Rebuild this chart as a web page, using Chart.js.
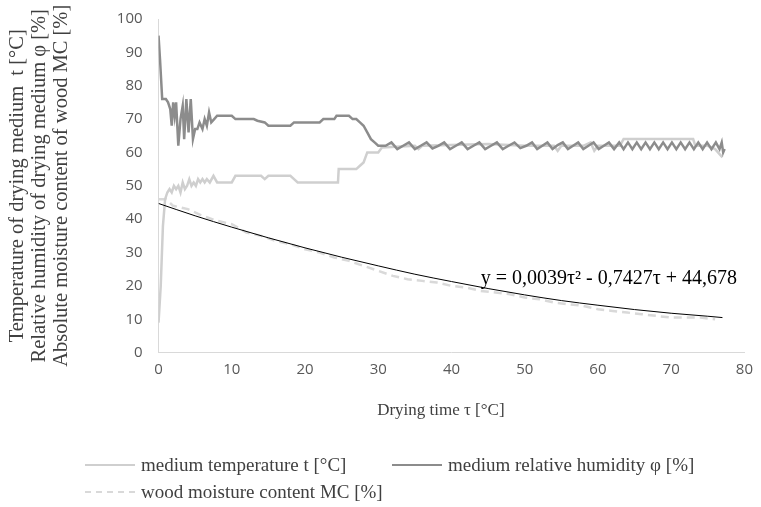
<!DOCTYPE html>
<html>
<head>
<meta charset="utf-8">
<script src="https://cdn.jsdelivr.net/npm/chart.js@4.4.1/dist/chart.umd.min.js"></script>
<style>
  html, body { margin: 0; padding: 0; background: #fff; }
  #wrap { position: relative; width: 761px; height: 507px; }
  .legend { position: absolute; left: 0; top: 0; width: 761px; height: 507px; pointer-events: none;
            font-family: 'Liberation Serif', serif; font-size: 19px; color: #404040; }
  .legend .item { position: absolute; white-space: nowrap; display: flex; align-items: center; }
  .legend .swatch { width: 50px; height: 0; margin-right: 6px; }
</style>
</head>
<body>
<div id="wrap">
  <canvas id="chart" width="761" height="507"></canvas>
  <div class="legend" id="legend"></div>
</div>
<script>
// ---- data ----
const humTime = [0, 0.2, 0.5, 1, 1.3, 1.6, 1.8, 2.0, 2.2, 2.4, 2.7, 3.0, 3.3, 3.5, 3.8, 4.1, 4.4, 4.7, 5.0, 5.3, 5.6, 6.0, 6.3, 6.6, 6.9, 7.2, 7.6, 8, 10, 10.5, 13, 13.5, 14.5, 15, 18, 18.5, 22, 22.5, 24, 24.3, 26, 26.5, 27, 27.5, 28, 28.5, 29, 29.5, 30,
  31, 31.8, 32.6, 33.4, 34.2, 35, 35.8, 36.6, 37.4, 38.2, 39, 39.8, 40.6, 41.4, 42.2, 43, 43.8, 44.6, 45.4, 46.2, 47, 47.8, 48.6, 49.4, 50.2, 51, 51.7, 52.4, 53.1, 53.8, 54.5, 55.2, 55.9, 56.6, 57.3, 58, 58.7, 59.4, 60.1, 60.8, 61.5, 62.2, 62.9, 63.5, 64.1, 64.7, 65.3, 65.9, 66.5, 67.1, 67.7, 68.3, 68.9, 69.5, 70.1, 70.7, 71.3, 71.9, 72.5, 73.1, 73.7, 74.3, 74.9, 75.5, 76.1, 76.6, 76.9, 77.1, 77.3];
const humValues = [95, 88, 76, 76, 75, 73, 68, 75, 71, 75, 62, 70, 74, 64, 76, 66, 76, 64, 67, 67, 69, 67, 70, 68, 72, 69, 70, 71, 71, 70, 70, 69.5, 69, 68, 68, 69, 69, 70, 70, 71, 71, 70, 70, 69, 68, 66, 64, 63, 62,
  62, 63, 61, 62, 63, 61, 62, 63, 61.2, 62, 63, 61, 62, 63, 61, 62, 63, 61, 62, 63, 61, 62, 63, 61.3, 62, 63, 61, 62, 63, 61, 62.2, 63, 61, 62, 63, 61, 62, 63, 61, 62, 63, 61, 63, 61, 63, 61, 63, 61, 63, 61, 63, 61, 63, 61, 63, 61, 63, 61, 63, 61, 63, 61, 63, 61, 63, 61, 63, 60, 61];

const tempTime = [0, 0.3, 0.6, 0.9, 1.2, 1.5, 1.8, 2.1, 2.4, 2.7, 3.0, 3.3, 3.6, 3.9, 4.2, 4.5, 4.8, 5.1, 5.4, 5.7, 6.0, 6.3, 6.6, 7.0, 7.5, 8, 10, 10.5, 14, 14.5, 15, 18, 18.5, 19, 24.5, 24.6, 27, 27.5, 28, 28.5, 30, 30.5, 35, 35.5, 36, 45, 50, 54, 54.5, 55, 58, 59, 59.5, 60, 63, 63.5, 66, 73, 73.3, 75, 76, 77];
const tempValues = [9, 20, 38, 46, 48, 49, 48, 50, 49, 50, 48, 51, 49, 50, 52, 50, 51, 50, 52, 51, 52, 51, 52, 51, 53, 51, 51, 53, 53, 52, 53, 53, 52, 51, 51, 55, 55, 56, 57, 60, 60, 61.5, 62, 61, 62, 62.5, 62, 62, 60.5, 62, 62, 63, 60.5, 62, 62, 64, 64, 64, 62, 62, 61, 58.5];

const mcTime = [0, 1, 2, 4, 6, 8, 10, 12, 14, 16, 18, 20, 22, 24, 26, 28, 30, 32, 34, 36, 38, 40, 42, 44, 46, 48, 50, 52, 54, 56, 58, 60, 62, 64, 66, 68, 70, 72, 74, 76];
const mcValues = [46, 46, 44, 43, 41, 39.5, 38.5, 36, 35, 33.5, 32.5, 31, 30, 28.5, 27.5, 26, 24.5, 23, 22, 21.5, 21, 20, 19.5, 18.5, 18, 17.5, 16.5, 16, 15, 14.5, 14, 13, 12.5, 12, 11.5, 11, 10.5, 10.5, 10.5, 10];

const trendTime = [0, 5, 10, 15, 20, 25, 30, 35, 40, 45, 50, 55, 60, 65, 70, 75, 77];
const trendValues = [44.7, 41.0, 37.6, 34.4, 31.4, 28.6, 26.0, 23.5, 21.3, 19.2, 17.3, 15.6, 14.2, 12.9, 11.8, 10.9, 10.5];

const trendLabel = 'y = 0,0039τ² - 0,7427τ + 44,678';
const yTitle = ['Temperature of drying medium  t [°C]', 'Relative humidity of drying medium φ [%]', 'Absolute moisture content of wood MC [%]'];
// trailing no-break spaces nudge the centred title a little to the left, as in the original
const xTitle = 'Drying time τ [°C]\u00a0\u00a0\u00a0\u00a0\u00a0';
const seriesNames = ['medium temperature t [°C]', 'medium relative humidity φ [%]', 'wood moisture content MC [%]'];

const pts = (xs, ys) => xs.map((x, i) => ({ x: x, y: ys[i] }));

// draws the trendline equation next to the curve
const equationLabel = {
  id: 'equationLabel',
  afterDatasetsDraw(chart) {
    const { ctx, scales: { x, y } } = chart;
    ctx.save();
    ctx.font = '20px "Liberation Serif"';
    ctx.fillStyle = '#000';
    ctx.textBaseline = 'middle';
    ctx.fillText(trendLabel, x.getPixelForValue(44), y.getPixelForValue(22.2));
    ctx.restore();
  }
};

new Chart(document.getElementById('chart'), {
  type: 'scatter',
  data: {
    datasets: [
      {
        label: seriesNames[1],
        data: pts(humTime, humValues),
        borderColor: '#8c8c8c',
        borderWidth: 2.5,
        order: 1
      },
      {
        label: seriesNames[0],
        data: pts(tempTime, tempValues),
        borderColor: '#cfcfcf',
        borderWidth: 2.5,
        order: 2
      },
      {
        label: seriesNames[2],
        data: pts(mcTime, mcValues),
        borderColor: '#d9d9d9',
        borderWidth: 2.5,
        borderDash: [8, 5],
        order: 3
      },
      {
        label: 'trend',
        data: pts(trendTime, trendValues),
        borderColor: '#000',
        borderWidth: 1,
        cubicInterpolationMode: 'monotone',
        order: 0
      }
    ]
  },
  options: {
    responsive: false,
    animation: false,
    showLine: true,
    elements: { point: { radius: 0 } },
    layout: { padding: { left: 0, right: 15, top: 0, bottom: 86 } },
    plugins: {
      legend: { display: false },
      tooltip: { enabled: false }
    },
    scales: {
      x: {
        type: 'linear',
        min: 0, max: 80,
        ticks: { stepSize: 10, padding: 8, color: '#595959', font: { family: 'Open Sans', size: 15 } },
        grid: { display: false, drawTicks: false },
        border: { color: '#d9d9d9', width: 1 },
        title: {
          display: true, text: xTitle, color: '#404040',
          font: { family: 'Liberation Serif', size: 17 },
          padding: { top: 14, bottom: 0 }
        }
      },
      y: {
        min: 0, max: 100,
        // small lineHeight keeps the "100" label from pushing the plot down
        ticks: { stepSize: 10, padding: 16, color: '#595959', font: { family: 'Open Sans', size: 15, lineHeight: 0.4 } },
        grid: { display: false, drawTicks: false },
        border: { color: '#d9d9d9', width: 1 },
        title: {
          display: true, text: yTitle, color: '#404040',
          font: { family: 'Liberation Serif', size: 20.5, lineHeight: 1.07 },
          padding: { top: 7, bottom: 28 }
        }
      }
    }
  },
  plugins: [equationLabel]
});

// legend below the plot
const legendItems = [
  { name: seriesNames[0], color: '#cfcfcf', style: 'solid', left: 85, top: 454 },
  { name: seriesNames[1], color: '#8c8c8c', style: 'solid', left: 392, top: 454 },
  { name: seriesNames[2], color: '#d9d9d9', style: 'dashed', left: 85, top: 481 }
];
document.getElementById('legend').innerHTML = legendItems.map(it => `
  <div class="item" style="left:${it.left}px; top:${it.top}px; height:22px;">
    <span class="swatch" style="border-top:2.5px ${it.style} ${it.color};"></span>${it.name}
  </div>`).join('');
</script>
</body>
</html>
